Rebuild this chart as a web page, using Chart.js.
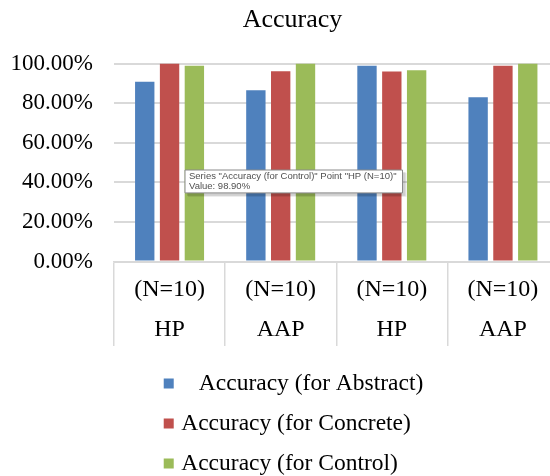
<!DOCTYPE html>
<html>
<head>
<meta charset="utf-8">
<script src="https://cdn.jsdelivr.net/npm/chart.js@4"></script>
<style>
  html, body { margin: 0; padding: 0; background: #fff; overflow: hidden; }
</style>
</head>
<body>
<canvas id="accuracyChart" width="585" height="476"></canvas>
<script>
const categories = [['(N=10)', 'HP'], ['(N=10)', 'AAP'], ['(N=10)', 'HP'], ['(N=10)', 'AAP']];
const seriesNames = ['   Accuracy (for Abstract)', 'Accuracy (for Concrete)', 'Accuracy (for Control)'];
const abstractValues = [90.8, 86.5, 98.9, 82.9];
const concreteValues = [100.0, 96.1, 96.0, 98.9];
const controlValues = [98.9, 100.0, 96.6, 100.0];
const yTicks = [0, 20, 40, 60, 80, 100];

const colors = ['#4F81BD', '#C0504D', '#9BBB59'];
const serif = 'Liberation Serif, Times New Roman, serif';

// legend drawn as a single centred column, like the Excel one
const columnLegend = {
  id: 'columnLegend',
  afterDraw(chart) {
    const ctx = chart.ctx;
    const box = 10, gap = 7.5, rowStep = 40;
    ctx.save();
    ctx.font = '23.5px ' + serif;
    ctx.textBaseline = 'middle';
    ctx.textAlign = 'left';
    const widths = chart.data.datasets.map(d => box + gap + ctx.measureText(d.label).width);
    const left = (chart.width - Math.max(...widths)) / 2 + 1;
    const top = chart.scales.x.bottom + 32;
    chart.data.datasets.forEach((d, i) => {
      const y = top + i * rowStep;
      ctx.fillStyle = d.backgroundColor;
      ctx.fillRect(left, y - box / 2, box, box);
      ctx.fillStyle = '#000';
      ctx.fillText(d.label, left + box + gap, y);
    });
    ctx.restore();
  },
  // soft drop shadow under the hover box
  beforeTooltipDraw(chart, args) {
    const tip = args.tooltip;
    if (!tip.opacity) return;
    const ctx = chart.ctx;
    ctx.save();
    ctx.fillStyle = 'rgba(0,0,0,0.12)';
    ctx.fillRect(tip.x + 2, tip.y + 2, tip.width + 1, tip.height + 1);
    ctx.fillStyle = 'rgba(0,0,0,0.08)';
    ctx.fillRect(tip.x + 3, tip.y + 3, tip.width + 1, tip.height + 1);
    ctx.restore();
  }
};

Chart.Tooltip.positioners.pinned = function() {
  return { x: 185, y: 170 };
};

const ctx = document.getElementById('accuracyChart').getContext('2d');
const chart = new Chart(ctx, {
  type: 'bar',
  data: {
    labels: categories,
    datasets: [abstractValues, concreteValues, controlValues].map((vals, i) => ({
      label: seriesNames[i],
      data: vals,
      backgroundColor: colors[i],
      categoryPercentage: 0.67,
      barPercentage: 0.78
    }))
  },
  options: {
    responsive: false,
    animation: false,
    events: [],
    layout: { padding: { left: 0, right: 0, top: 0, bottom: 124.5 } },
    plugins: {
      legend: { display: false },
      title: {
        display: true,
        text: 'Accuracy',
        color: '#000',
        font: { family: serif, size: 26, weight: 'normal' },
        padding: { top: 4.4, bottom: 27.9 }
      },
      tooltip: {
        position: 'pinned',
        xAlign: 'left',
        yAlign: 'top',
        caretSize: 0,
        caretPadding: 0,
        cornerRadius: 0,
        backgroundColor: '#fff',
        borderColor: '#8a8a8a',
        borderWidth: 1,
        displayColors: false,
        titleColor: '#505050',
        bodyColor: '#505050',
        titleFont: { family: 'Liberation Sans', size: 9.5, weight: 'normal', lineHeight: 1.1 },
        bodyFont: { family: 'Liberation Sans', size: 9.5, lineHeight: 1.1 },
        titleMarginBottom: 0,
        padding: { left: 4, right: 6, top: 1, bottom: 1 },
        callbacks: {
          title: items => {
            const it = items[0];
            const cat = categories[it.dataIndex];
            return 'Series "' + it.dataset.label.trim() + '" Point "' + cat[1] + ' ' + cat[0] + '"';
          },
          label: it => 'Value: ' + it.parsed.y.toFixed(2) + '%'
        }
      }
    },
    scales: {
      x: {
        afterFit: scale => { scale.height = 90; },
        grid: {
          offset: true,
          drawOnChartArea: false,
          drawTicks: true,
          tickLength: 84.5,
          color: '#d9d9d9',
          lineWidth: 1.5
        },
        border: { display: true, color: '#d9d9d9', width: 1.5 },
        ticks: {
          color: '#000',
          autoSkip: false,
          maxRotation: 0,
          padding: -76,
          font: { family: serif, size: 24, lineHeight: '40px' }
        }
      },
      y: {
        min: 0,
        max: 100,
        afterFit: scale => { scale.width = 114; },
        afterBuildTicks: scale => { scale.ticks = yTicks.map(v => ({ value: v })); },
        grid: { color: '#d9d9d9', lineWidth: 2, drawTicks: false },
        border: { display: false },
        ticks: {
          color: '#000',
          padding: 21,
          font: { family: serif, size: 23 },
          callback: v => v.toFixed(2) + '%'
        }
      },
      // empty strip on the right so the title centres on the whole chart frame
      yRight: {
        position: 'right',
        display: true,
        afterFit: scale => { scale.width = 26.5; },
        grid: { drawOnChartArea: false, drawTicks: false },
        border: { display: false },
        ticks: { display: false }
      }
    }
  },
  plugins: [columnLegend]
});

chart.tooltip.setActiveElements([{ datasetIndex: 2, index: 0 }], { x: 0, y: 0 });
chart.update();
</script>
</body>
</html>
